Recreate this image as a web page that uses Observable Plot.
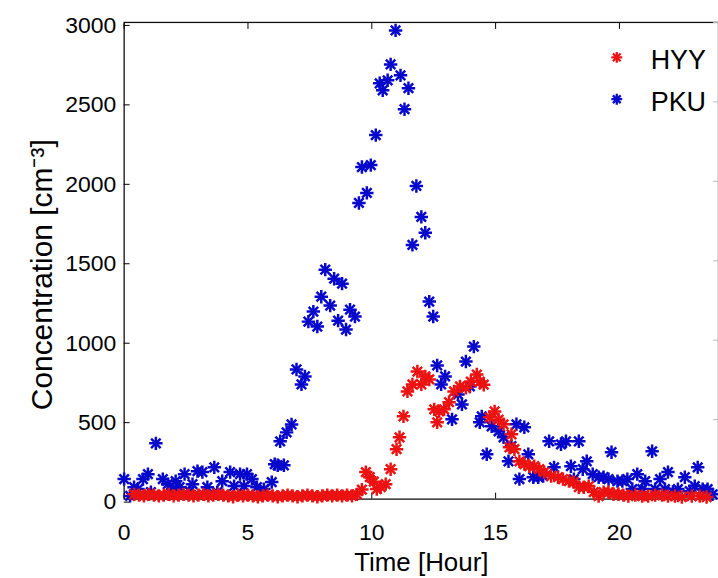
<!DOCTYPE html>
<html><head><meta charset="utf-8">
<script src="https://cdn.jsdelivr.net/npm/d3@7"></script>
<script src="https://cdn.jsdelivr.net/npm/@observablehq/plot@0.6"></script>
<style>html,body{margin:0;padding:0;overflow:hidden;background:#fff;width:718px;height:578px}</style>
</head><body><div id="chart"></div>
<script>
// HYY series: time [hour] and concentration [cm^-3]
const hyyTime = [
  0.4,0.6,0.8,1.0,1.2,1.4,1.6,1.8,2.0,2.2,
  2.4,2.6,2.8,3.0,3.2,3.4,3.6,3.8,4.0,4.2,
  4.4,4.6,4.8,5.0,5.2,5.4,5.6,5.8,6.0,6.2,
  6.4,6.6,6.8,7.0,7.2,7.4,7.6,7.8,8.0,8.2,
  8.4,8.6,8.8,9.0,9.2,9.4,
  9.6,9.76,9.92,10.08,10.2,10.36,10.56,10.76,11.0,11.12,
  11.28,11.44,11.64,11.84,12.0,12.16,12.32,12.52,12.64,12.72,
  12.92,13.12,13.32,13.56,13.8,14.0,14.24,14.36,14.52,14.76,
  14.96,15.12,15.32,15.56,15.64,15.76,15.96,16.16,16.36,16.56,
  16.76,16.96,17.24,17.52,17.72,17.96,18.16,18.36,18.56,18.76,
  18.96,19.16,19.36,19.56,19.76,19.96,20.16,20.36,20.64,20.92,
  21.16,21.44,21.72,21.96,22.24,22.52,22.92,23.24,23.52
];
const hyyConc = [
  30,25,20,30,25,20,25,30,20,25,
  30,25,20,25,30,20,25,30,25,20,
  15,25,20,25,20,15,20,25,20,15,
  20,25,20,15,20,25,20,15,20,25,
  20,25,20,25,20,30,
  60,170,138,110,63,75,94,188,314,389,
  521,678,722,803,722,772,753,565,483,552,
  565,610,678,709,700,740,784,740,720,515,
  552,500,471,326,408,314,238,220,207,207,
  188,170,145,138,126,113,107,75,75,82,
  44,19,44,44,31,31,25,19,25,19,
  19,25,25,19,19,13,19,19,13
];
// PKU series
const pkuTime = [
  0.0,0.24,0.4,0.56,0.76,0.96,1.08,1.28,1.56,1.76,
  1.96,2.08,2.24,2.44,2.64,2.76,2.96,3.16,3.36,3.64,
  3.76,3.96,4.28,4.44,4.68,4.84,4.96,5.16,5.36,5.64,
  5.96,6.08,6.2,6.3,6.45,6.56,6.76,6.96,7.16,7.3,
  7.44,7.64,7.8,7.96,8.12,8.32,8.48,8.64,8.8,8.96,
  9.12,9.32,9.48,9.6,9.8,9.96,10.16,10.32,10.44,10.64,
  10.76,10.96,11.16,11.32,11.48,11.64,11.8,12.0,12.16,12.32,
  12.48,12.64,12.8,12.96,13.24,13.48,13.64,13.8,13.96,14.12,
  14.36,14.44,14.64,14.84,15.12,15.32,15.52,15.64,15.84,15.96,
  16.16,16.32,16.52,16.72,16.92,17.16,17.36,17.64,17.84,18.04,
  18.16,18.36,18.52,18.68,18.92,19.16,19.36,19.56,19.68,19.92,
  20.12,20.32,20.52,20.72,20.92,21.04,21.32,21.44,21.64,21.84,
  21.96,22.16,22.36,22.64,22.84,23.04,23.16,23.36,23.56,23.76
];
const pkuConc = [
  126,20,75,63,126,157,44,351,126,94,
  63,113,75,157,50,94,176,170,75,200,
  44,113,170,82,157,82,157,126,75,63,
  107,220,213,364,213,420,470,816,722,772,
  1117,1180,1086,1274,1444,1218,1387,1123,1356,1067,
  1192,1149,1864,2090,1927,2102,2291,2617,2573,2636,
  2736,2950,2667,2454,2586,1600,1971,1776,1676,1243,
  1149,841,722,772,502,659,596,866,709,960,
  483,521,282,458,427,389,238,333,471,126,
  452,282,138,138,145,364,200,345,364,207,
  126,364,188,238,157,138,138,126,295,113,
  113,126,63,157,63,113,301,63,126,63,
  170,45,63,138,50,82,200,63,63,30
];
const xTicks = [0, 5, 10, 15, 20];
const yTicks = [0, 500, 1000, 1500, 2000, 2500, 3000];
const seriesNames = ["HYY", "PKU"];
const xLabel = "Time [Hour]";
const yLabel = "Concentration [cm⁻³]";

const RED = "#ec1212", BLUE = "#0808cc";
const hyy = hyyTime.map((t, i) => ({t, v: hyyConc[i]}));
const pku = pkuTime.map((t, i) => ({t, v: pkuConc[i]}));
const font = "'Liberation Sans', Arial, Helvetica, sans-serif";

function star(data, color) {
  return ["plus", "times"].map(s => Plot.dot(data, {
    x: "t", y: "v", symbol: s, r: 4.4, stroke: color, strokeWidth: 2.5
  }));
}
function legendStar(name, color, dy) {
  return ["plus", "times"].map(s => Plot.dot([name], {
    frameAnchor: "top-right", dx: -102, dy, symbol: s, r: 3.6, stroke: color, strokeWidth: 2.3
  }));
}

const chart = Plot.plot({
  width: 720, height: 578,
  marginLeft: 124, marginRight: 0, marginTop: 22, marginBottom: 78,
  style: {fontFamily: font, fontSize: "23px", color: "black", background: "white", overflow: "visible"},
  x: {domain: [0, 24]},
  y: {domain: [0, 3000]},
  marks: [
    Plot.frame({stroke: "#111", strokeWidth: 1.3}),
    Plot.axisX({anchor: "bottom", ticks: xTicks, tickSize: -6, tickPadding: 31, label: null, fontSize: 23, tickFormat: d => String(d)}),
    Plot.axisX({anchor: "top", ticks: xTicks, tickSize: -6, tickFormat: () => "", label: null}),
    Plot.axisY({anchor: "left", ticks: yTicks, tickSize: -6, tickPadding: 14, dy: 3, label: null, fontSize: 23, tickFormat: d => String(d)}),
    Plot.axisY({anchor: "right", ticks: yTicks, tickSize: -6, tickFormat: () => "", label: null, stroke: "#bbb"}),
    ...star(pku, BLUE),
    ...star(hyy, RED),
    ...legendStar(seriesNames[0], RED, 35),
    ...legendStar(seriesNames[1], BLUE, 77),
    Plot.text([seriesNames[0]], {text: d => d, frameAnchor: "top-right", dx: -68, dy: 38, textAnchor: "start", lineAnchor: "middle", fontSize: 27}),
    Plot.text([seriesNames[1]], {text: d => d, frameAnchor: "top-right", dx: -68, dy: 80, textAnchor: "start", lineAnchor: "middle", fontSize: 27}),
    Plot.text([xLabel], {text: d => d, frameAnchor: "bottom", dy: 64, textAnchor: "middle", lineAnchor: "middle", fontSize: 26}),
    Plot.text([yLabel], {text: d => d, frameAnchor: "left", rotate: -90, dx: -82, dy: 14, textAnchor: "middle", lineAnchor: "middle", fontSize: 30})
  ]
});
document.getElementById("chart").appendChild(chart);
</script>
</body></html>
